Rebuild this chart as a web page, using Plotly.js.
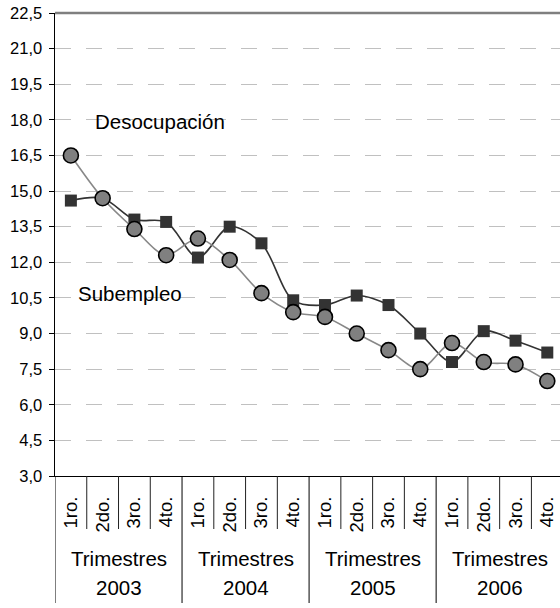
<!DOCTYPE html>
<html>
<head>
<meta charset="utf-8">
<script src="https://cdn.plot.ly/plotly-3.0.1.min.js"></script>
<style>html,body{margin:0;padding:0;background:#fff}#chart{width:560px;height:608px}</style>
</head>
<body>
<div id="chart"></div>
<script>
var quarters = ["1ro.","2do.","3ro.","4to."];
var years = ["2003","2004","2005","2006"];
var groupLabel = "Trimestres";
var desocupacion = [16.5,14.7,13.4,12.3,13.0,12.1,10.7,9.9,9.7,9.0,8.3,7.5,8.6,7.8,7.7,7.0];
var subempleo = [14.6,14.7,13.8,13.7,12.2,13.5,12.8,10.4,10.2,10.6,10.2,9.0,7.8,9.1,8.7,8.2];
var yTicks = [3.0,4.5,6.0,7.5,9.0,10.5,12.0,13.5,15.0,16.5,18.0,19.5,21.0,22.5];

var FONT = "Liberation Sans, Arial, sans-serif";
var xIdx = [], xText = [];
years.forEach(function(y, yi){ quarters.forEach(function(q, qi){ xIdx.push(yi*4+qi); xText.push(q); }); });

var traces = [
  {x: xIdx, y: subempleo, name: "Subempleo", mode: "lines+markers", type: "scatter",
   line: {color: "#333333", width: 1.6, shape: "spline", smoothing: 0.9},
   marker: {symbol: "square", size: 12, color: "#333333", line: {width: 0}}},
  {x: xIdx, y: desocupacion, name: "Desocupación", mode: "lines+markers", type: "scatter",
   line: {color: "#888888", width: 1.6, shape: "spline", smoothing: 0.9},
   marker: {symbol: "circle", size: 15, color: "#808080", line: {color: "#000000", width: 1.6}}}
];

var shapes = [];
// top border
shapes.push({type: "line", xref: "paper", yref: "paper", x0: 0, x1: 1, y0: 1, y1: 1, line: {color: "#7f7f7f", width: 2.5}});
// separators
for (var b = 0; b <= 16; b++) {
  var isGroup = (b % 4 === 0);
  shapes.push({type: "line", xref: "x", yref: "paper", x0: b - 0.5, x1: b - 0.5,
    y0: 0, y1: isGroup ? -0.2743 : -0.1145,
    line: {color: isGroup ? "#000000" : "#222222", width: 1}});
}

var annotations = [
  {x: 0.7, y: 17.95, xref: "x", yref: "y", text: "Desocupación", showarrow: false, xanchor: "left", yanchor: "middle",
   font: {family: FONT, size: 20.5, color: "#000"}},
  {x: 0.17, y: 10.7, xref: "x", yref: "y", text: "Subempleo", showarrow: false, xanchor: "left", yanchor: "middle",
   font: {family: FONT, size: 20.5, color: "#000"}}
];
years.forEach(function(y, yi){
  annotations.push({x: yi*4 + 1.5, y: -0.1785, xref: "x", yref: "paper", text: groupLabel, showarrow: false,
    xanchor: "center", yanchor: "middle", font: {family: FONT, size: 20.5, color: "#000"}});
  annotations.push({x: yi*4 + 1.5, y: -0.2405, xref: "x", yref: "paper", text: y, showarrow: false,
    xanchor: "center", yanchor: "middle", font: {family: FONT, size: 20.5, color: "#000"}});
});

var layout = {
  width: 560, height: 608,
  margin: {l: 55, r: 0, t: 13, b: 132, pad: 0},
  paper_bgcolor: "#fff", plot_bgcolor: "#fff",
  showlegend: false,
  font: {family: FONT, color: "#000"},
  xaxis: {
    type: "linear", range: [-0.5, 15.4], tickmode: "array", tickvals: xIdx, ticktext: xText,
    tickangle: -90, tickfont: {family: FONT, size: 18.5, color: "#000"},
    showgrid: false, zeroline: false, showline: true, linecolor: "#000", linewidth: 1.2,
    ticks: "", ticklabelstandoff: 12
  },
  yaxis: {
    range: [3.0, 22.5], tickmode: "array", tickvals: yTicks,
    ticktext: yTicks.map(function(v){ return v.toFixed(1).replace(".", ","); }),
    tickfont: {family: FONT, size: 16.5, color: "#000"},
    showgrid: true, gridcolor: "#c0c0c0", gridwidth: 1, griddash: "16px,15px",
    zeroline: false, showline: true, linecolor: "#000", linewidth: 1.5,
    ticks: "outside", ticklen: 5, tickcolor: "#000", tickwidth: 1, ticklabelstandoff: 3
  },
  shapes: shapes,
  annotations: annotations
};
Plotly.newPlot("chart", traces, layout, {staticPlot: true, displayModeBar: false});
</script>
</body>
</html>
